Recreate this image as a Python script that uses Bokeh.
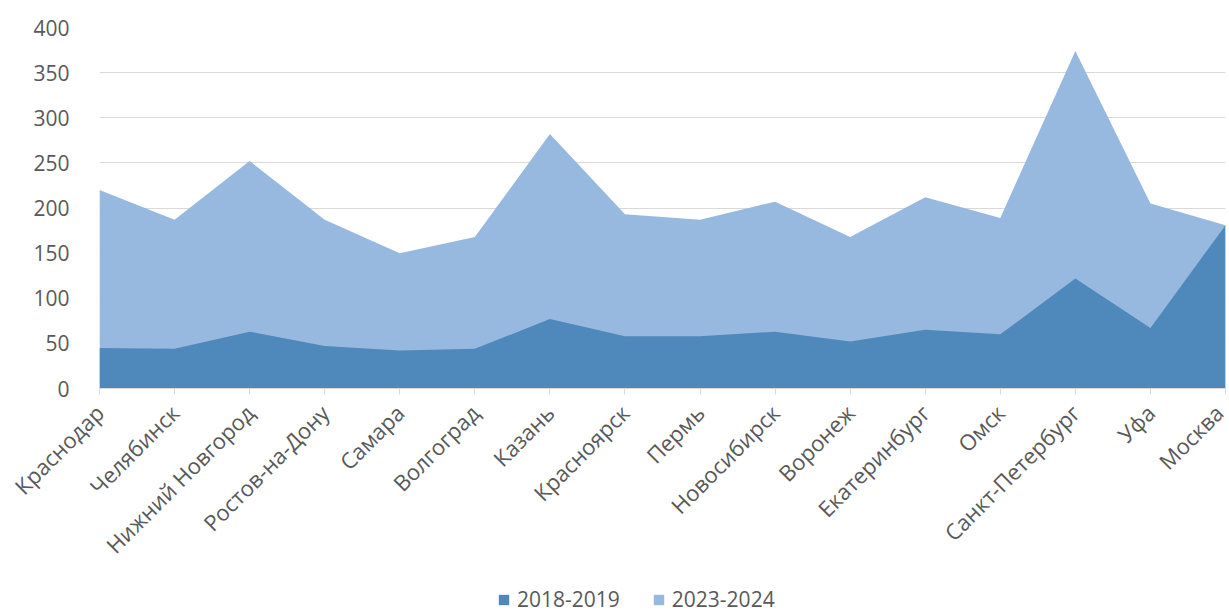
import math
from bokeh.plotting import figure
from bokeh.layouts import column
from bokeh.models import Range1d, FixedTicker, Legend, LegendItem, ColumnDataSource
from bokeh.embed import file_html
from bokeh.resources import INLINE

cities = ["Краснодар", "Челябинск", "Нижний Новгород", "Ростов-на-Дону", "Самара",
          "Волгоград", "Казань", "Красноярск", "Пермь", "Новосибирск", "Воронеж",
          "Екатеринбург", "Омск", "Санкт-Петербург", "Уфа", "Москва"]
s2018_2019 = [45, 44, 63, 47, 42, 44, 77, 58, 58, 63, 52, 65, 60, 122, 67, 181]
s2023_2024 = [220, 187, 252, 187, 150, 168, 282, 193, 187, 207, 168, 212, 189, 374, 205, 181]
y_ticks = [0, 50, 100, 150, 200, 250, 300, 350, 400]
series_names = ["2018-2019", "2023-2024"]

FONT = "Open Sans"
TXT = "#595959"
DARK = "#4F89BC"
LIGHT = "#98B9DF"

xs = list(range(len(cities)))
src = ColumnDataSource(dict(x=xs, a=s2018_2019, b=s2023_2024))

fig = figure(width=1229, height=584, output_backend="svg", toolbar_location=None,
             x_range=Range1d(0, len(cities) - 1), y_range=Range1d(0, 400),
             min_border_left=99, min_border_right=4, min_border_top=27, min_border_bottom=196)
fig.outline_line_color = None
fig.background_fill_color = "white"
fig.border_fill_color = "white"

fig.varea(x="x", y1=0, y2="b", source=src, fill_color=LIGHT)
fig.varea(x="x", y1=0, y2="a", source=src, fill_color=DARK)

fig.xgrid.grid_line_color = None
fig.ygrid.grid_line_color = "#D9D9D9"
fig.ygrid.grid_line_width = 1
fig.ygrid.ticker = FixedTicker(ticks=y_ticks)

ya = fig.yaxis[0]
ya.ticker = FixedTicker(ticks=y_ticks)
ya.axis_line_color = None
ya.major_tick_line_color = None
ya.minor_tick_line_color = None
ya.major_label_standoff = 24
ya.major_label_text_font = FONT
ya.major_label_text_font_size = "21px"
ya.major_label_text_color = TXT

xa = fig.xaxis[0]
xa.ticker = FixedTicker(ticks=xs)
xa.major_label_overrides = {i: c for i, c in enumerate(cities)}
xa.major_label_orientation = math.pi / 4
xa.axis_line_color = "#D9D9D9"
xa.major_tick_line_color = "#D9D9D9"
xa.major_tick_in = 0
xa.major_tick_out = 6
xa.minor_tick_line_color = None
xa.major_label_standoff = 14
xa.major_label_text_font = FONT
xa.major_label_text_font_size = "22px"
xa.major_label_text_color = TXT

# legend strip under the chart
leg = figure(width=1229, height=29, output_backend="svg", toolbar_location=None,
             x_range=Range1d(0, 1), y_range=Range1d(0, 1),
             min_border_left=0, min_border_right=0, min_border_top=0, min_border_bottom=0)
leg.axis.visible = False
leg.grid.visible = False
leg.outline_line_color = None
leg.background_fill_color = "white"
leg.border_fill_color = "white"
la = leg.varea(x=[0], y1=[0], y2=[0], fill_color=DARK)
lb = leg.varea(x=[0], y1=[0], y2=[0], fill_color=LIGHT)

legend = Legend(items=[LegendItem(label=series_names[0], renderers=[la]),
                       LegendItem(label=series_names[1], renderers=[lb])],
                orientation="horizontal", location=(398, 0),
                label_text_font=FONT, label_text_font_size="21px", label_text_color=TXT,
                glyph_width=13, glyph_height=13, spacing=32, padding=0, margin=0,
                label_standoff=7, border_line_color=None, background_fill_alpha=0)
leg.add_layout(legend, "center")

p = column(fig, leg, spacing=0)

open("out.html", "w").write(file_html(p, INLINE))
